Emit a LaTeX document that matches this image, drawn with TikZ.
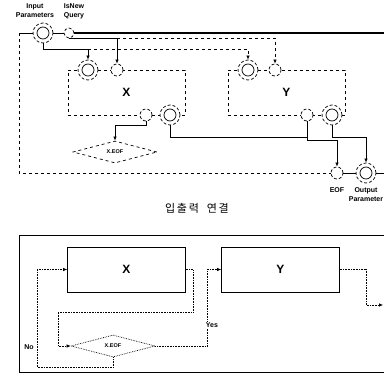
\documentclass[tikz,border=0pt]{standalone}
\usepackage{fontspec}
\setsansfont{Liberation Sans}
\newfontfamily\kofont[LetterSpace=15]{Noto Sans CJK KR}
\usetikzlibrary{shapes.geometric,arrows.meta}

\begin{document}
\begin{tikzpicture}[x=1pt, y=-1pt, line width=0.7pt, >={Latex[length=4pt,width=3.5pt]},
    port/.style={circle, draw, densely dashed, fill=white, minimum size=12pt, inner sep=0pt},
    dport/.style={circle, draw, densely dashed, fill=white, minimum size=20pt, inner sep=0pt,
        path picture={\draw[solid] (path picture bounding box.center) circle (6pt);}},
    comp/.style={rectangle, draw, dashed, minimum width=117pt, minimum height=45pt, font=\sffamily\bfseries\large},
    block/.style={rectangle, draw, minimum width=118pt, minimum height=45pt, font=\sffamily\bfseries\large},
    test/.style={diamond, draw, dashed, fill=white, aspect=4, minimum width=84pt, minimum height=22pt,
        inner sep=0pt, font=\sffamily\bfseries\fontsize{5.5}{6}\selectfont},
    lbl/.style={font=\sffamily\bfseries\fontsize{7}{9}\selectfont, align=center, inner sep=0pt},
    flow/.style={densely dotted, semithick}]

    \useasboundingbox (0,0) rectangle (384,377);

    % Define components with their ports
    \node[comp] (xtop) at (126.5,92.5) {X};
    \node[comp] (ytop) at (286.5,92.5) {Y};
    \node[dport] (inp) at (43,33) {};
    \node[port, minimum size=10pt] (isnew) at (69,33) {};
    \node[dport] (xin) at (88,70) {};
    \node[port] (xnew) at (117,70) {};
    \node[port] (xeofp) at (146,115) {};
    \node[dport] (xout) at (170,115) {};
    \node[dport] (yin) at (248,70) {};
    \node[port] (ynew) at (275,70) {};
    \node[port] (yeofp) at (307,115) {};
    \node[dport] (yout) at (332,115) {};
    \node[test] (xeof) at (115,152) {X.EOF};
    \node[port] (eof) at (337,173) {};
    \node[dport] (opar) at (366,173) {};

    \node[lbl] (inplbl) at (35,11) {Input\\Parameters};
    \node[lbl] (isnewlbl) at (74,11) {IsNew\\Query};
    \node[lbl] (eoflbl) at (337,190) {EOF};
    \node[lbl] (oparlbl) at (366,195) {Output\\Parameter};

    \coordinate (tl) at (19,33);
    \coordinate (tr) at (384,33);
    \coordinate (br) at (384,173);
    \coordinate (inbus) at (43,49);
    \coordinate (xj) at (307,137);

    % Outer frame through the ports
    \draw[line width=1.4pt] (isnew.east) -- (tr);
    \draw (inp.east) -- (isnew.west);
    \draw (inp.west) -- (tl);
    \draw[dashed] (tl) |- (eof.west);
    \draw (eof.east) -- (opar.west);
    \draw (opar.east) -- (br);

    % Connections between ports
    \draw[->] (inp.south) -- (inbus) -| (xin.north);
    \draw[->, dashed] (xin.north |- inbus) -| (yin.north);
    \draw[->] (isnew.south) -| (xnew.north);
    \draw[->, dashed] (xnew.north |- isnew.south) -| (ynew.north);
    \draw[->] (xeofp.south) -- ++(0,4) -| (xeof.north);
    \draw (xout.south) |- (xj);
    \draw[->] (yeofp.south) -- ++(0,19) -| (eof.north);
    \draw[->] (yout.south) -- ++(0,12) -| (opar.north);

    \node[font=\kofont\fontsize{11}{13}\selectfont] (title) at (197,208) {입출력\hspace{8pt}연결};

    % Control flow
    \draw[semithick] (384,235) -- (19,235) -- (19,372) -- (384,372);
    \node[block] (xb) at (126.5,269.5) {X};
    \node[block] (yb) at (280.5,269.5) {Y};
    \node[test, densely dotted] (xeofb) at (113,346) {X.EOF};
    \coordinate (yexit) at (383,305);

    \draw[flow,->] (xb.east) -- ++(7,0) |- ++(-135,43) |- (xeofb.west);
    \draw[flow,->] (xeofb.east) -- ++(52,0) |- (yb.west);
    \draw[flow,->] (xeofb.south) |- ++(-76,10) |- (xb.west);
    \draw[flow,->] (yb.east) -- ++(26,0) |- (yexit);
    \node[lbl, fill=white, inner sep=1pt] (yes) at (212,325) {Yes};
    \node[lbl] (no) at (29,347) {No};
\end{tikzpicture}
\end{document}
